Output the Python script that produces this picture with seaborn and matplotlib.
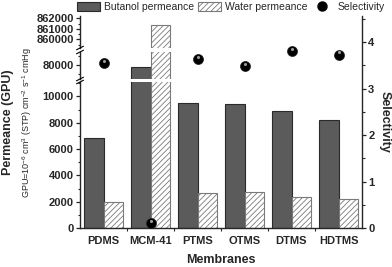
import numpy as np
import pandas as pd
import matplotlib
matplotlib.use("Agg")
import matplotlib.pyplot as plt
from matplotlib.patches import Patch
from matplotlib.lines import Line2D
from matplotlib.ticker import MultipleLocator, FixedLocator
import seaborn as sns

membranes = ["PDMS", "MCM-41", "PTMS", "OTMS", "DTMS", "HDTMS"]
butanol = [6820, 79800, 9530, 9400, 8900, 8210]
water = [1980, 861400, 2660, 2740, 2330, 2180]
selectivity = [3.54, 0.10, 3.63, 3.48, 3.81, 3.73]

sns.set_style("ticks")
plt.rcParams["font.family"] = ["Liberation Sans", "DejaVu Sans"]
plt.rcParams["hatch.linewidth"] = 0.6
plt.rcParams["mathtext.fontset"] = "custom"
plt.rcParams["mathtext.rm"] = "Liberation Sans"
plt.rcParams["mathtext.it"] = "Liberation Sans:italic"
plt.rcParams["mathtext.bf"] = "Liberation Sans:bold"

df = pd.DataFrame({
    "Membrane": membranes * 2,
    "Permeance": butanol + water,
    "Type": ["Butanol permeance"] * len(membranes) + ["Water permeance"] * len(membranes),
})

W, H = 392, 267
fig = plt.figure(figsize=(W / 100, H / 100), dpi=100)

left = 80 / W
width = 282 / W


def fy(px_top, px_bot):
    return [left, 1 - px_bot / H, width, (px_bot - px_top) / H]


ax_top = fig.add_axes(fy(16, 48))
ax_mid = fig.add_axes(fy(52, 79))
ax_bot = fig.add_axes(fy(82, 228))

limits = {
    ax_top: (859170, 862220),
    ax_mid: (78480, 81480),
    ax_bot: (0, 11100),
}

for ax in (ax_top, ax_mid, ax_bot):
    sns.barplot(data=df, x="Membrane", y="Permeance", hue="Type", ax=ax,
                palette=["#5b5b5b", "white"], width=0.84, legend=False,
                saturation=1)
    for p in ax.containers[0]:
        p.set_edgecolor("#2a2a2a")
        p.set_linewidth(0.8)
    for p in ax.containers[1]:
        p.set_hatch("//////")
        p.set_edgecolor("#7a7a7a")
        p.set_linewidth(0.8)
    ax.set_xlim(-0.5, 5.5)
    ax.set_ylim(*limits[ax])
    ax.set_xlabel("")
    ax.set_ylabel("")
    ax.spines["top"].set_visible(False)
    ax.spines["right"].set_visible(False)
    ax.spines["left"].set_linewidth(1.0)
    ax.tick_params(axis="y", direction="out", length=3, width=0.9, labelsize=8, pad=1.5)
    ax.tick_params(axis="y", which="minor", direction="out", length=1.8, width=0.8)
    ax.set_facecolor("none")

for ax in (ax_top, ax_mid):
    ax.spines["bottom"].set_visible(False)
    ax.tick_params(axis="x", which="both", bottom=False, labelbottom=False)

ax_top.yaxis.set_major_locator(FixedLocator([860000, 861000, 862000]))
ax_top.yaxis.set_minor_locator(FixedLocator([859500, 860500, 861500]))
ax_mid.yaxis.set_major_locator(FixedLocator([80000]))
ax_mid.yaxis.set_minor_locator(FixedLocator([79000, 81000]))
ax_bot.yaxis.set_major_locator(MultipleLocator(2000))
ax_bot.yaxis.set_minor_locator(MultipleLocator(1000))
for ax in (ax_top, ax_mid, ax_bot):
    ax.set_yticklabels([f"{int(v)}" for v in ax.get_yticks()], fontweight="bold", fontsize=8)
    ax.set_ylim(*limits[ax])

ax_bot.spines["bottom"].set_linewidth(1.0)
ax_bot.set_xticks(range(len(membranes)))
ax_bot.set_xticklabels(membranes, fontweight="bold", fontsize=8)
ax_bot.tick_params(axis="x", which="major", length=0, pad=6)
ax_bot.xaxis.set_minor_locator(FixedLocator(np.arange(0.5, 5.0, 1.0)))
ax_bot.tick_params(axis="x", which="minor", direction="out", length=2.5, width=0.8)

# break marks on the left spine (pixel positions)
for ypx in (48, 52, 79, 82):
    x0, x1 = 76.5, 83.5
    fig.add_artist(Line2D([x0 / W, x1 / W], [1 - (ypx + 1.8) / H, 1 - (ypx - 1.8) / H],
                          color="black", lw=0.8))

# selectivity axis
ax_s = fig.add_axes([left, 1 - 228 / H, width, (228 - 16) / H])
ax_s.set_facecolor("none")
sns.scatterplot(x=list(range(len(membranes))), y=selectivity, ax=ax_s, color="black",
                s=52, edgecolor="#222222", linewidth=0.5, zorder=5)
sns.scatterplot(x=list(range(len(membranes))), y=[v + 0.05 for v in selectivity], ax=ax_s,
                color="#9a9a9a", s=5, linewidth=0, zorder=6)
ax_s.set_xlim(-0.5, 5.5)
for s in ("left", "top", "bottom"):
    ax_s.spines[s].set_visible(False)
ax_s.spines["right"].set_linewidth(1.0)
ax_s.tick_params(axis="x", which="both", bottom=False, labelbottom=False)
ax_s.yaxis.tick_right()
ax_s.yaxis.set_major_locator(MultipleLocator(1))
ax_s.yaxis.set_minor_locator(MultipleLocator(0.5))
ax_s.tick_params(axis="y", direction="out", length=3, width=0.9, labelsize=8, pad=1.5)
ax_s.tick_params(axis="y", which="minor", direction="out", length=1.8, width=0.8)
ax_s.set_yticks([0, 1, 2, 3, 4])
ax_s.set_yticklabels(["0", "1", "2", "3", "4"], fontweight="bold", fontsize=8)
ax_s.set_ylim(0, 4.56)

# labels
fig.text(8 / W, 1 - 122 / H, "Permeance (GPU)", rotation=90, fontweight="bold",
         fontsize=9, ha="center", va="center")
fig.text(27 / W, 1 - 123 / H,
         r"GPU=10$^{-6}$ cm$^{3}$ (STP) cm$^{-2}$ s$^{-1}$ cmHg",
         rotation=90, fontsize=6.5, ha="center", va="center")
fig.text(385 / W, 1 - 122 / H, "Selectivity", rotation=270, fontweight="bold",
         fontsize=9, ha="center", va="center")
fig.text((80 + 141) / W, 1 - 260 / H, "Membranes", fontweight="bold",
         fontsize=9, ha="center", va="center")

handles = [
    Patch(facecolor="#5b5b5b", edgecolor="#2a2a2a", linewidth=0.8),
    Patch(facecolor="white", edgecolor="#7a7a7a", hatch="//////", linewidth=0.8),
    Line2D([], [], marker="o", color="black", linestyle="none", markersize=6.5),
]
fig.legend(handles, ["Butanol permeance", "Water permeance", "Selectivity"],
           loc="upper center", bbox_to_anchor=(231 / W, 1.0), ncol=3, frameon=False,
           fontsize=7.5, handlelength=2.2, handleheight=1.0, columnspacing=0.3,
           handletextpad=0.4, borderaxespad=0, borderpad=0.15)

fig.savefig("out.png", dpi=100)
